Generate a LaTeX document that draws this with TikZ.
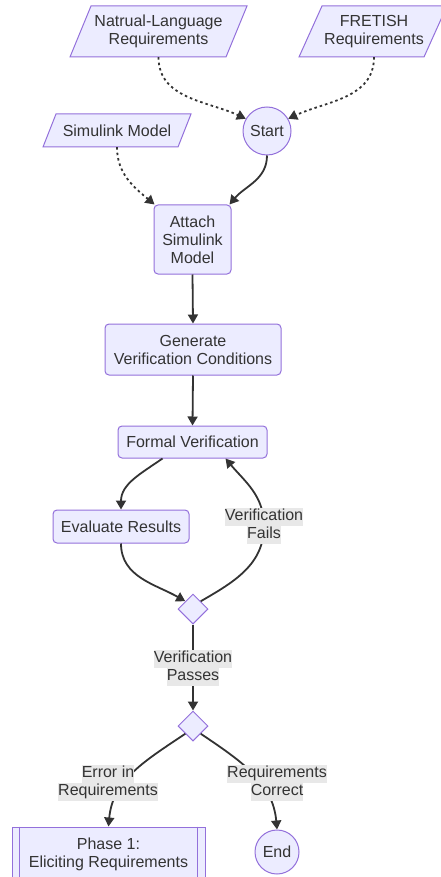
\documentclass[tikz,border=0pt]{standalone}
\usepackage{fontspec}
\setmainfont{Liberation Sans}
\usetikzlibrary{shapes.geometric,arrows.meta}
\definecolor{nodefill}{HTML}{ECECFF}
\definecolor{nodeline}{HTML}{9370DB}
\definecolor{ink}{HTML}{333333}
\definecolor{lblbg}{HTML}{E8E8E8}
\newcommand{\lbline}[1]{{\setlength{\fboxsep}{0pt}\colorbox{lblbg}{\strut #1}}}
\tikzset{
  txt/.style={align=center, inner sep=0pt, text=ink, font=\fontsize{16}{18}\selectfont},
  box/.style={txt, draw=nodeline, fill=nodefill, line width=1pt, rounded corners=4pt},
  subbox/.style={txt, draw=nodeline, fill=nodefill, line width=1pt},
  roundnode/.style={txt, circle, draw=nodeline, fill=nodefill, line width=1pt},
  decision/.style={diamond, aspect=1, draw=nodeline, fill=nodefill, line width=1pt, inner sep=0pt, minimum width=30pt, minimum height=30pt},
  pshape/.style={draw=nodeline, fill=nodefill, line width=1pt},
  conn/.style={draw=ink, line width=1.8pt, -{Triangle[length=9pt,width=10pt]}},
  dotconn/.style={conn, dash pattern=on 2.5pt off 3pt},
  elabel/.style={txt}
}
\begin{document}
\begin{tikzpicture}[x=1pt,y=1pt]
\useasboundingbox (0,0) rectangle (440,-877);
% parallelograms
\draw[pshape] (91,-6) -- (247,-6) -- (226,-57) -- (70,-57) -- cycle;
\node[txt, minimum height=51pt] (nl) at (158.5,-31.5) {Natrual-Language\\Requirements};
\draw[pshape] (322,-6) -- (447,-6) -- (424,-57) -- (299,-57) -- cycle;
\node[txt, minimum height=51pt] (fr) at (374,-31.5) {FRETISH\\Requirements};
\draw[pshape] (56,-114) -- (191,-114) -- (178,-147) -- (43,-147) -- cycle;
\node[txt, minimum height=33pt] (sm) at (117,-130.5) {Simulink Model};
% nodes
\node[roundnode, minimum size=48pt] (start) at (267,-131) {Start};
\node[box, minimum width=77pt, minimum height=69pt] (attach) at (192.5,-239.5) {Attach\\Simulink\\Model};
\node[box, minimum width=176pt, minimum height=51pt] (gen) at (193,-349.5) {Generate\\Verification Conditions};
\node[box, minimum width=149pt, minimum height=32pt] (fv) at (192.5,-442) {Formal Verification};
\node[box, minimum width=136pt, minimum height=33pt] (ev) at (121,-526.5) {Evaluate Results};
\node[decision] (d1) at (193,-609) {};
\node[decision] (d2) at (193,-726) {};
\node[subbox, minimum width=193pt, minimum height=54pt] (ph) at (108.5,-854) {Phase 1:\\Eliciting Requirements};
\draw[nodeline, line width=1pt] ([xshift=8pt]ph.north west) -- ([xshift=8pt]ph.south west);
\draw[nodeline, line width=1pt] ([xshift=-8pt]ph.north east) -- ([xshift=-8pt]ph.south east);
\node[roundnode, minimum size=44pt] (end) at (277,-852) {End};
% label positions
\coordinate (vfailsPos) at (264,-526);
\coordinate (vpassPos) at (193,-668);
\coordinate (errPos) at (108,-783);
\coordinate (corrPos) at (277,-783);
% connectors
\draw[dotconn] (nl.south) to[out=-90,in=155] (start.150);
\draw[dotconn] (fr.south) to[out=-90,in=25] (start.30);
\draw[dotconn] (sm.south) to[out=-90,in=140] ([xshift=1pt]attach.north west);
\draw[conn] (start.south) to[out=-90,in=50] ([xshift=-2pt]attach.north east);
\draw[conn] (attach.south) -- (gen.north);
\draw[conn] (gen.south) -- (fv.north);
\draw[conn] ([xshift=-30pt]fv.south) to[out=-145,in=90] (ev.north);
\draw[conn] (ev.south) to[out=-90,in=150] (d1.north west);
\draw[conn] (d1.north east) to[out=30,in=-90] (vfailsPos) to[out=90,in=-50] ([xshift=33pt]fv.south);
\draw[conn] (d1.south) -- (d2.north);
\draw[conn] (d2.south west) to[out=-146,in=85] (ph.north);
\draw[conn] (d2.south east) to[out=-34,in=95] (end.north);
% edge labels
\node[elabel] (vfails) at (vfailsPos) {\lbline{Verification}\\\lbline{Fails}};
\node[elabel] (vpass) at (vpassPos) {\lbline{Verification}\\\lbline{Passes}};
\node[elabel] (err) at (errPos) {\lbline{Error in}\\\lbline{Requirements}};
\node[elabel] (corr) at (corrPos) {\lbline{Requirements}\\\lbline{Correct}};
\end{tikzpicture}
\end{document}
